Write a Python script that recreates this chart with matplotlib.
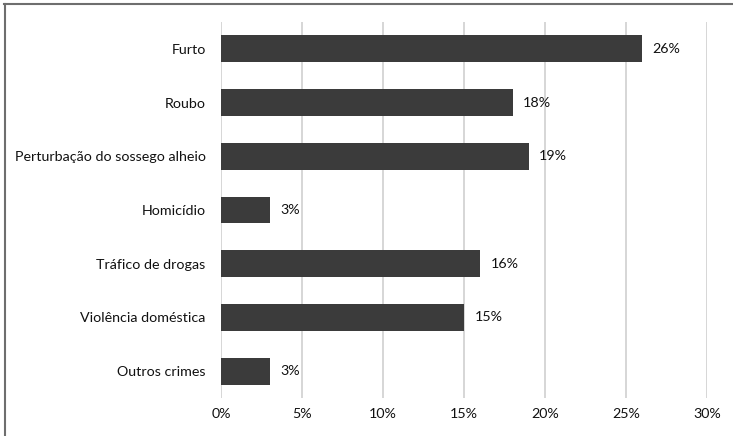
import matplotlib.pyplot as plt
from matplotlib.lines import Line2D
from matplotlib.ticker import FuncFormatter

categories = ['Furto', 'Roubo', 'Perturbação do sossego alheio', 'Homicídio',
              'Tráfico de drogas', 'Violência doméstica', 'Outros crimes']
percentages = [26, 18, 19, 3, 16, 15, 3]
x_ticks = [0, 5, 10, 15, 20, 25, 30]

plt.rcParams['font.family'] = ['Lato', 'DejaVu Sans']

fig = plt.figure(figsize=(7.33, 4.36), dpi=100)
ax = fig.add_axes([0.3015, 0.0872, 0.663, 0.8623])

y = list(range(len(categories)))
bars = ax.barh(y, percentages, height=0.5, color='#3b3b3b', zorder=3)

for yi, v in zip(y, percentages):
    ax.annotate(f'{v}%', xy=(v, yi), xytext=(7.5, 0), textcoords='offset points',
                va='center', ha='left', fontsize=10.3, color='#111111')

ax.set_yticks(y)
ax.set_yticklabels(categories, fontsize=10.3, color='#111111')
ax.set_ylim(len(categories) - 0.5, -0.5)

ax.set_xlim(0, 30)
ax.set_xticks(x_ticks)
ax.xaxis.set_major_formatter(FuncFormatter(lambda v, p: f'{v:.0f}%'))
ax.tick_params(axis='x', labelsize=10.3, colors='#111111', length=0, pad=7.5)
ax.tick_params(axis='y', length=0, pad=11)
ax.grid(axis='x', color='#d0d0d0', linewidth=1.2, zorder=0)

for s in ax.spines.values():
    s.set_visible(False)

# frame lines along top and left edges
fig.add_artist(Line2D([0.006, 1], [0.991, 0.991], transform=fig.transFigure,
                      color='#6e6e6e', linewidth=1.5))
fig.add_artist(Line2D([0.0065, 0.0065], [0, 0.991], transform=fig.transFigure,
                      color='#6e6e6e', linewidth=1.5))

fig.savefig('out.png', dpi=100)
